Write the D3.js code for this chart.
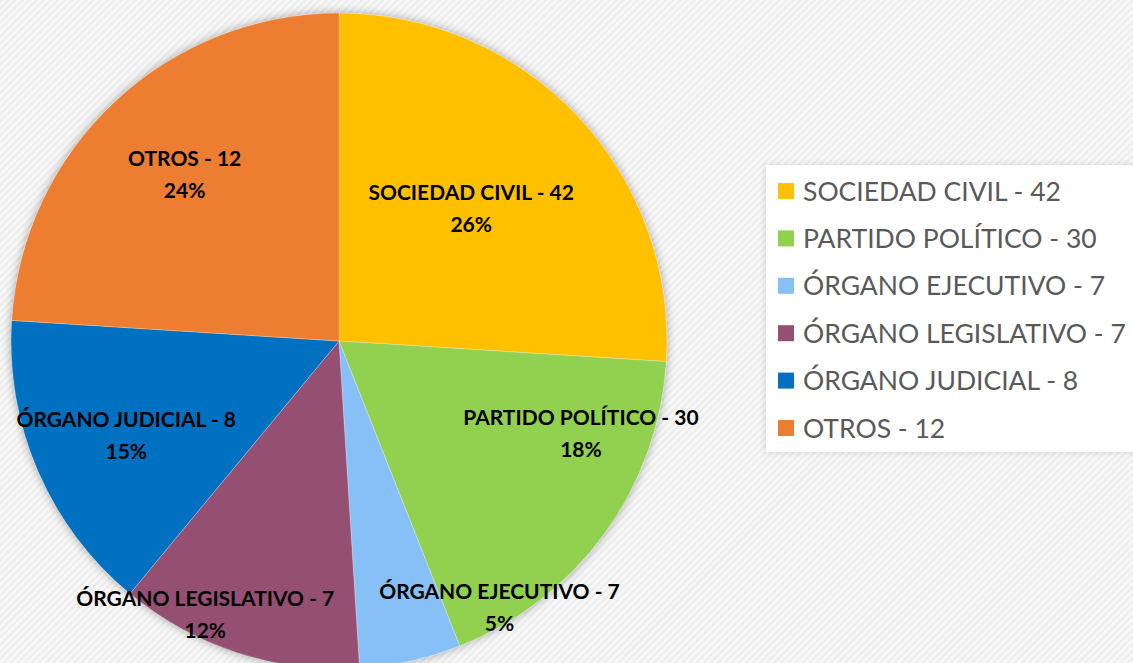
<!DOCTYPE html>
<html><head><meta charset="utf-8">
<script src="https://cdn.jsdelivr.net/npm/d3@7"></script>
<style>html,body{margin:0;padding:0;background:#f4f4f4;overflow:hidden}</style>
</head><body>
<svg id="c" width="1133" height="663"></svg>
<script>
const categories = ["SOCIEDAD CIVIL","PARTIDO POLÍTICO","ÓRGANO EJECUTIVO","ÓRGANO LEGISLATIVO","ÓRGANO JUDICIAL","OTROS"];
const counts = [42,30,7,7,8,12];
const percents = [26,18,5,12,15,24];
const colors = ["#FFC000","#92D050","#87C0F7","#954F72","#0070C0","#ED7D31"];
// label placement (polar: angle in degrees from 12 o'clock, radius fraction)
const labelPolar = [[45,0.57],[111,0.79],[149,0.95],[206,0.93],[246,0.71],[317,0.69]];

const W=1133,H=663, cx=339, cy=341, R=328;
const svg=d3.select("#c");
const defs=svg.append("defs");
const pat=defs.append("pattern").attr("id","stripes").attr("patternUnits","userSpaceOnUse")
  .attr("width",5).attr("height",5).attr("patternTransform","rotate(45)");
pat.append("rect").attr("width",5).attr("height",5).attr("fill","#f7f7f7");
pat.append("rect").attr("width",2).attr("height",5).attr("fill","#ececec");
const sh=defs.append("filter").attr("id","shadow").attr("x","-20%").attr("y","-20%").attr("width","140%").attr("height","140%");
sh.append("feGaussianBlur").attr("in","SourceAlpha").attr("stdDeviation",5);
sh.append("feComponentTransfer").append("feFuncA").attr("type","linear").attr("slope",0.35);
const m=sh.append("feMerge"); m.append("feMergeNode"); m.append("feMergeNode").attr("in","SourceGraphic");
const sh2=defs.append("filter").attr("id","shadow2").attr("x","-10%").attr("y","-10%").attr("width","120%").attr("height","120%");
sh2.append("feGaussianBlur").attr("in","SourceAlpha").attr("stdDeviation",3);
sh2.append("feComponentTransfer").append("feFuncA").attr("type","linear").attr("slope",0.15);
const m2=sh2.append("feMerge"); m2.append("feMergeNode"); m2.append("feMergeNode").attr("in","SourceGraphic");

svg.append("rect").attr("width",W).attr("height",H).attr("fill","url(#stripes)");

const pie=d3.pie().sort(null).value(d=>d);
const arcs=pie(percents);
const arc=d3.arc().innerRadius(0).outerRadius(R);
const g=svg.append("g").attr("transform",`translate(${cx},${cy})`);
g.append("circle").attr("r",R).attr("fill","#ddd").attr("filter","url(#shadow)");
g.selectAll("path.s").data(arcs).join("path").attr("class","s")
  .attr("d",arc).attr("fill",(d,i)=>colors[i]).attr("stroke","#ffffff").attr("stroke-opacity",0.35).attr("stroke-width",0.8);

const lab=g.selectAll("text.l").data(arcs).join("text").attr("class","l")
  .attr("transform",(d,i)=>{const p=d3.pointRadial(labelPolar[i][0]*Math.PI/180, labelPolar[i][1]*R);return `translate(${p[0]},${p[1]})`;})
  .attr("text-anchor","middle").attr("font-family","Lato, 'Open Sans', sans-serif").attr("font-weight","bold")
  .attr("font-size",21).attr("fill","#000");
lab.append("tspan").attr("x",0).attr("y",-9).text((d,i)=>`${categories[i]} - ${counts[i]}`);
lab.append("tspan").attr("x",0).attr("y",23).text((d,i)=>`${percents[i]}%`);

// legend
const lg=svg.append("g");
lg.append("rect").attr("x",766).attr("y",165).attr("width",380).attr("height",287).attr("fill","#fff").attr("filter","url(#shadow2)");
const ly=d3.scalePoint().domain(categories).range([191,428]);
const items=lg.selectAll("g.i").data(categories).join("g").attr("class","i")
  .attr("transform",d=>`translate(778,${ly(d)})`);
items.append("rect").attr("x",0).attr("y",-8).attr("width",16).attr("height",16).attr("fill",(d,i)=>colors[i]);
items.append("text").attr("x",25).attr("y",9.5).attr("font-family","Lato, 'Open Sans', sans-serif")
  .attr("font-size",26.5).attr("fill","#595959").text((d,i)=>`${d} - ${counts[i]}`);
</script>
</body></html>
